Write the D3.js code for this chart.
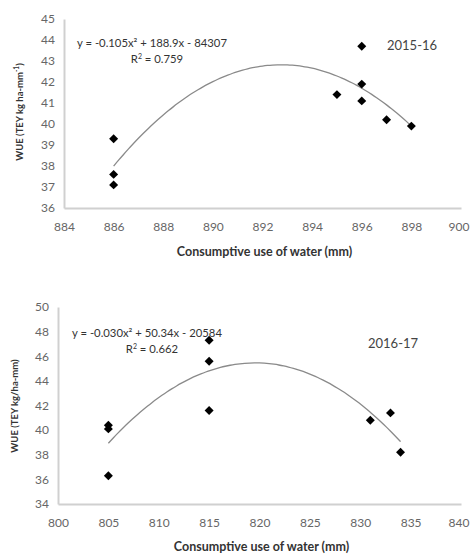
<!DOCTYPE html>
<html>
<head>
<meta charset="utf-8">
<script src="https://cdn.jsdelivr.net/npm/d3@7"></script>
<style>
  body { margin: 0; background: #fff; }
  svg { display: block; }
  text { font-family: Lato, "Open Sans", sans-serif; }
</style>
</head>
<body>
<svg id="chart" width="470" height="556"></svg>
<script>
// 2015-16 season
const cu1 = [886, 886, 886, 895, 896, 896, 896, 897, 898];
const wue1 = [39.3, 37.6, 37.1, 41.4, 43.7, 41.9, 41.1, 40.2, 39.9];
const xTicks1 = [884, 886, 888, 890, 892, 894, 896, 898, 900];
const yTicks1 = [36, 37, 38, 39, 40, 41, 42, 43, 44, 45];

// 2016-17 season
const cu2 = [805, 805, 805, 815, 815, 815, 831, 833, 834];
const wue2 = [40.4, 40.1, 36.3, 47.3, 45.6, 41.6, 40.8, 41.4, 38.2];
const xTicks2 = [800, 805, 810, 815, 820, 825, 830, 835, 840];
const yTicks2 = [34, 36, 38, 40, 42, 44, 46, 48, 50];

const xTitle = "Consumptive use of water (mm)";

const svg = d3.select("#chart");

// least squares quadratic, x centred for stability
function quadFit(xs, ys) {
    const m = d3.mean(xs);
    let S = [0, 0, 0, 0, 0], T = [0, 0, 0];
    xs.forEach((x, i) => {
        const u = x - m;
        for (let k = 0; k < 5; k++) S[k] += Math.pow(u, k);
        for (let k = 0; k < 3; k++) T[k] += ys[i] * Math.pow(u, k);
    });
    const A = [[S[0], S[1], S[2], T[0]], [S[1], S[2], S[3], T[1]], [S[2], S[3], S[4], T[2]]];
    for (let c = 0; c < 3; c++) {
        for (let r = c + 1; r < 3; r++) {
            const f = A[r][c] / A[c][c];
            for (let k = c; k < 4; k++) A[r][k] -= f * A[c][k];
        }
    }
    const b = [0, 0, 0];
    for (let r = 2; r >= 0; r--) {
        let s = A[r][3];
        for (let k = r + 1; k < 3; k++) s -= A[r][k] * b[k];
        b[r] = s / A[r][r];
    }
    return x => b[0] + b[1] * (x - m) + b[2] * (x - m) * (x - m);
}

function drawPanel(p) {
    const g = svg.append("g");
    const x = d3.scaleLinear().domain(d3.extent(p.xTicks)).range([p.left, p.right]);
    const y = d3.scaleLinear().domain(d3.extent(p.yTicks)).range([p.bottom, p.top]);

    // axes (no tick marks, like excel)
    const xa = g.append("g").attr("transform", `translate(0,${p.bottom})`)
        .call(d3.axisBottom(x).tickValues(p.xTicks).tickSize(0).tickPadding(14));
    const ya = g.append("g").attr("transform", `translate(${p.left},0)`)
        .call(d3.axisLeft(y).tickValues(p.yTicks).tickSize(0).tickPadding(9));
    [xa, ya].forEach(a => {
        a.select(".domain").attr("stroke", "#d0d0d0").attr("stroke-width", 2);
        a.selectAll("text").attr("fill", "#666").style("font-size", "12px");
    });
    // last x label sits on the page edge, keep it inside
    xa.select(".tick:last-of-type text").attr("text-anchor", "end").attr("dx", 8);

    // trendline
    const f = quadFit(p.xs, p.ys);
    const ext = d3.extent(p.xs);
    const line = d3.line().x(d => x(d)).y(d => y(f(d))).curve(d3.curveMonotoneX);
    g.append("path")
        .datum(d3.range(ext[0], ext[1] + 0.001, (ext[1] - ext[0]) / 60))
        .attr("d", line)
        .attr("fill", "none")
        .attr("stroke", "#8a8a8a")
        .attr("stroke-width", 1.3);

    // points
    g.selectAll(".pt").data(p.xs.map((v, i) => [v, p.ys[i]])).join("path")
        .attr("class", "pt")
        .attr("d", d3.symbol(d3.symbolSquare, 40))
        .attr("transform", d => `translate(${x(d[0])},${y(d[1])}) rotate(45)`)
        .attr("fill", "#000");

    // equation + r2
    g.append("text").attr("x", p.eqX).attr("y", p.eqY)
        .attr("fill", "#333").style("font-size", "11.3px").text(p.eq);
    const r2 = g.append("text").attr("x", p.r2X).attr("y", p.eqY + 16)
        .attr("fill", "#333").style("font-size", "11.3px").attr("text-anchor", "middle");
    r2.append("tspan").text("R");
    r2.append("tspan").attr("dy", -4).style("font-size", "7px").text("2");
    r2.append("tspan").attr("dy", 4).text(" = " + p.r2);

    g.append("text").attr("x", p.yrX).attr("y", p.yrY)
        .attr("fill", "#444").style("font-size", "13px")
        .text(p.year);

    g.append("text")
        .attr("x", (p.left + p.right) / 2 + 2).attr("y", p.xtY)
        .attr("text-anchor", "middle").attr("fill", "#333")
        .style("font-size", "12.5px").style("font-weight", "bold")
        .text(xTitle);

    const yt = g.append("text")
        .attr("transform", `translate(${p.ytX},${p.ytC}) rotate(-90)`)
        .attr("text-anchor", "middle").attr("fill", "#333")
        .style("font-size", "9.5px").style("font-weight", "bold");
    p.yTitle(yt);
}

drawPanel({
    xs: cu1, ys: wue1, xTicks: xTicks1, yTicks: yTicks1,
    left: 64, right: 461, top: 19, bottom: 208,
    eq: "y = -0.105x\u00b2 + 188.9x - 84307", eqX: 77, eqY: 47, r2X: 157, r2: "0.759",
    year: "2015-16", yrX: 387, yrY: 50, xtY: 256, ytX: 23, ytC: 112,
    yTitle: t => {
        t.append("tspan").text("WUE (TEY kg ha-mm");
        t.append("tspan").attr("dy", -4).style("font-size", "6.5px").text("-1");
        t.append("tspan").attr("dy", 4).text(")");
    }
});

drawPanel({
    xs: cu2, ys: wue2, xTicks: xTicks2, yTicks: yTicks2,
    left: 58, right: 461, top: 307, bottom: 504,
    eq: "y = -0.030x\u00b2 + 50.34x - 20584", eqX: 72, eqY: 337, r2X: 152, r2: "0.662",
    year: "2016-17", yrX: 368, yrY: 348, xtY: 551, ytX: 18, ytC: 406,
    yTitle: t => t.text("WUE (TEY kg/ha-mm)")
});
</script>
</body>
</html>
